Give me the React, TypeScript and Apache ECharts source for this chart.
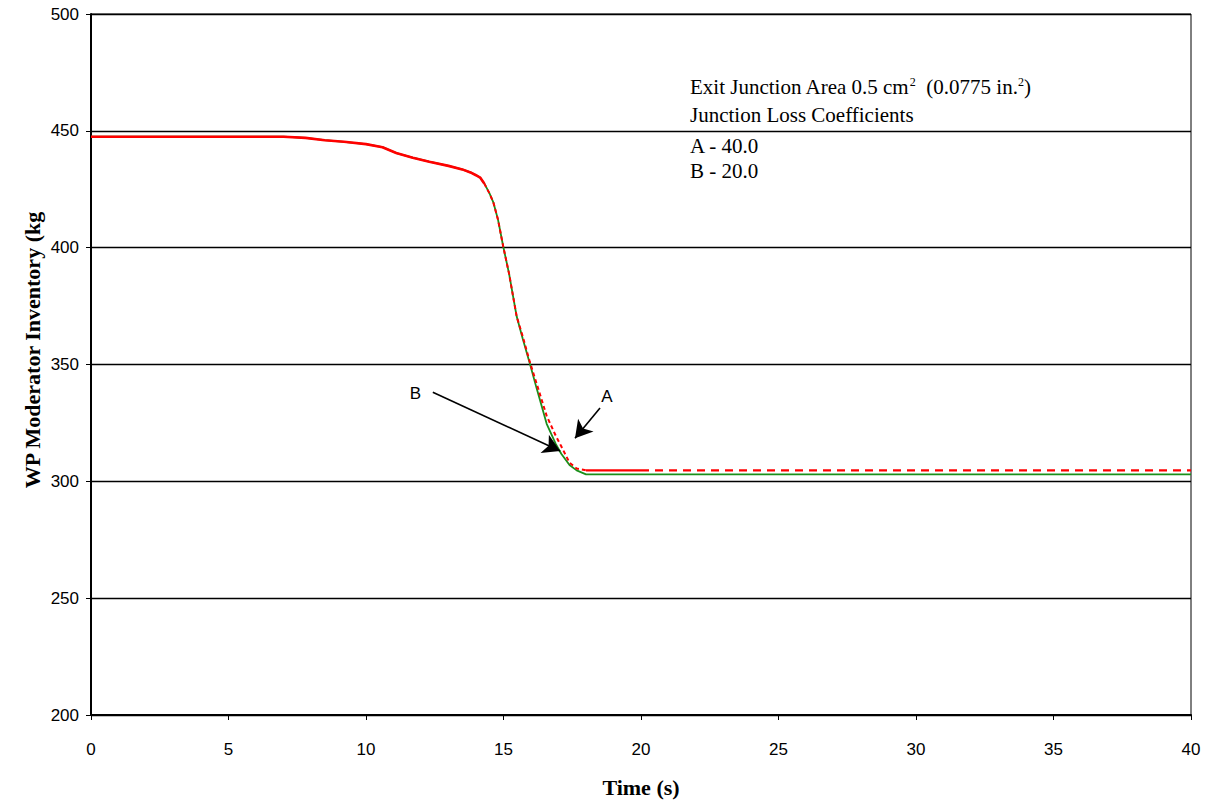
import React, { useEffect, useRef } from "react";
import * as echarts from "echarts";

// Time axis (s) shared by both cases
const timeS = [
  0, 7.0, 7.8, 8.5, 9.2, 10.0, 10.6, 11.1, 11.7, 12.3, 13.0, 13.5, 13.8, 14.0,
  14.15, 14.3, 14.5, 14.63, 14.8, 14.99, 15.2, 15.48, 15.7, 15.96, 16.2, 16.57,
  16.9, 17.1, 17.4, 17.66, 18.0, 20, 25, 30, 35, 40,
];

// Case A: junction loss coefficient 40.0 (kg)
const caseA = [
  447.5, 447.5, 447, 446, 445.3, 444.3, 443, 440.5, 438.5, 436.8, 435, 433.5,
  432.2, 431, 430, 427.5, 423, 419.4, 412, 400.5, 389, 370.5, 362, 351, 342, 328,
  319.5, 315, 308, 305.5, 304.7, 304.7, 304.7, 304.7, 304.7, 304.7,
];

// Case B: junction loss coefficient 20.0 (kg)
const caseB = [
  447.5, 447.5, 447, 446, 445.3, 444.3, 443, 440.5, 438.5, 436.8, 435, 433.5,
  432.2, 431, 430, 427.5, 423, 419.4, 412, 400.5, 389, 370.5, 361, 350.3, 340,
  324.6, 316, 311.8, 307, 304.7, 303.0, 303.0, 303.0, 303.0, 303.0, 303.0,
];

const xTicks = { min: 0, max: 40, interval: 5 };
const yTicks = { min: 200, max: 500, interval: 50 };

// Callout arrows: [label, labelAt, from, to] in data coordinates
const callouts: [string, number[], number[], number[]][] = [
  ["B", [11.8, 337.4], [12.43, 338.1], [17.06, 313.0]],
  ["A", [18.76, 336.5], [18.51, 331.4], [17.6, 318.4]],
];

// Note block lines and their vertical centres
const noteLines = [
  "Exit Junction Area 0.5 cm{sup|2}  (0.0775 in.{sup|2})",
  "Junction Loss Coefficients",
  "A - 40.0",
  "B - 20.0",
];
const noteCentres = [87, 115, 146, 171];

const pairs = (ys: number[], from: number, to: number) =>
  timeS.map((t, i) => [t, ys[i]]).filter(([t]) => t >= from && t <= to);

export default function App() {
  const ref = useRef<HTMLDivElement>(null);

  useEffect(() => {
    if (!ref.current) return;
    document.body.style.margin = "0";
    const chart = echarts.init(ref.current, undefined, { renderer: "svg" });
    const red = "#ff0000";
    const green = "#1a8f1a";
    const serif = "Liberation Serif";
    const sans = "Liberation Sans";

    const redSeg = (from: number, to: number, type: any, width: number) => ({
      type: "line",
      data: pairs(caseA, from, to),
      showSymbol: false,
      lineStyle: { color: red, width, type },
      z: 3,
      silent: true,
    });

    chart.setOption({
      animation: false,
      backgroundColor: "#ffffff",
      grid: {
        left: 91,
        right: 17,
        top: 14,
        bottom: 85,
        outerBoundsMode: "none",
        containLabel: false,
        show: true,
        borderColor: "#000",
        borderWidth: 1,
        backgroundColor: "transparent",
      },
      xAxis: {
        type: "value",
        ...xTicks,
        axisLine: { show: true, lineStyle: { color: "#000", width: 2 } },
        axisTick: { show: true, length: 5, lineStyle: { color: "#000" } },
        axisLabel: {
          margin: 26,
          fontFamily: sans,
          fontSize: 17,
          color: "#000",
        },
        splitLine: { show: false },
      },
      yAxis: {
        type: "value",
        ...yTicks,
        axisLine: { show: true, lineStyle: { color: "#000", width: 2 } },
        axisTick: { show: true, length: 5, lineStyle: { color: "#000" } },
        axisLabel: {
          margin: 12,
          fontFamily: sans,
          fontSize: 17,
          color: "#000",
        },
        splitLine: { show: true, lineStyle: { color: "#000", width: 1.3 } },
      },
      series: [
        {
          type: "line",
          name: "B",
          data: pairs(caseB, 0, 40),
          showSymbol: false,
          lineStyle: { color: green, width: 1.8 },
          z: 2,
          silent: true,
          markLine: {
            silent: true,
            symbol: ["none", "arrow"],
            symbolSize: [15, 17],
            label: { show: false },
            lineStyle: { color: "#000", width: 1.6, type: "solid" },
            data: callouts.map(([, , from, to]) => [
              { coord: from },
              { coord: to },
            ]),
          },
          markPoint: {
            silent: true,
            symbol: "circle",
            symbolSize: 0,
            label: {
              show: true,
              position: "inside",
              fontFamily: sans,
              fontSize: 17,
              color: "#000",
              formatter: (p: any) => p.name,
            },
            data: callouts.map(([name, at]) => ({ name, coord: at })),
          },
        },
        redSeg(0, 14.3, "solid", 2.6),
        redSeg(14.3, 18.0, [4, 3], 2),
        redSeg(18.0, 20, "solid", 2.4),
        redSeg(20, 40, [8, 6], 2.4),
      ],
      graphic: [
        ...noteLines.map((line, i) => ({
          type: "text",
          x: 690,
          y: noteCentres[i],
          silent: true,
          style: {
            text: line,
            fill: "#000",
            fontFamily: serif,
            fontSize: 21,
            verticalAlign: "middle",
            rich: {
              sup: {
                fontFamily: serif,
                fontSize: 12,
                verticalAlign: "top",
                padding: [0, 0, 10, 0],
              },
            },
          },
        })),
        {
          type: "text",
          x: 32,
          y: 350,
          rotation: Math.PI / 2,
          silent: true,
          style: {
            text: "WP Moderator Inventory (kg",
            fill: "#000",
            fontFamily: serif,
            fontWeight: "bold",
            fontSize: 22,
            align: "center",
            verticalAlign: "middle",
          },
        },
        {
          type: "text",
          x: 641,
          y: 787,
          silent: true,
          style: {
            text: "Time (s)",
            fill: "#000",
            fontFamily: serif,
            fontWeight: "bold",
            fontSize: 22,
            align: "center",
            verticalAlign: "middle",
          },
        },
      ],
    });

    return () => chart.dispose();
  }, []);

  return <div ref={ref} style={{ width: 1208, height: 800 }} />;
}
